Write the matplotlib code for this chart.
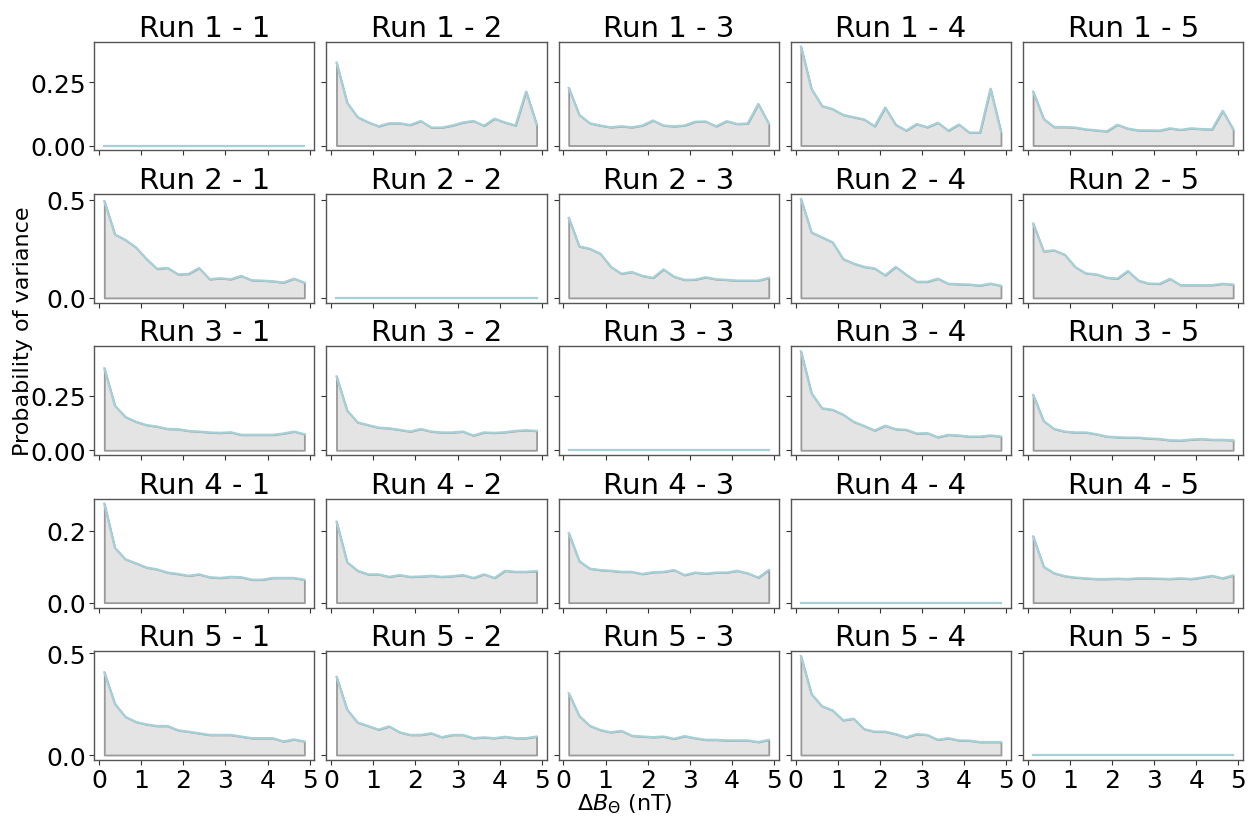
import numpy as np
import matplotlib
matplotlib.use("Agg")
import matplotlib.pyplot as plt

# bin centres of the field-difference histogram (nT)
delta_b = [0.125, 0.375, 0.625, 0.875, 1.125, 1.375, 1.625, 1.875, 2.125, 2.375,
           2.625, 2.875, 3.125, 3.375, 3.625, 3.875, 4.125, 4.375, 4.625, 4.875]

zeros = [0.0] * 20

run_1_2 = [0.327, 0.169, 0.112, 0.092, 0.076, 0.088, 0.088, 0.081, 0.097, 0.071,
           0.071, 0.079, 0.091, 0.097, 0.078, 0.106, 0.091, 0.079, 0.213, 0.083]
run_1_3 = [0.227, 0.121, 0.088, 0.079, 0.072, 0.076, 0.072, 0.079, 0.099, 0.079,
           0.076, 0.079, 0.094, 0.095, 0.076, 0.096, 0.085, 0.087, 0.164, 0.086]
run_1_4 = [0.390, 0.223, 0.156, 0.144, 0.121, 0.112, 0.103, 0.076, 0.150, 0.082,
           0.059, 0.085, 0.072, 0.090, 0.059, 0.083, 0.051, 0.051, 0.224, 0.054]
run_1_5 = [0.213, 0.105, 0.073, 0.073, 0.071, 0.064, 0.060, 0.056, 0.082, 0.067,
           0.060, 0.060, 0.059, 0.068, 0.062, 0.068, 0.065, 0.064, 0.137, 0.064]

run_2_1 = [0.492, 0.323, 0.295, 0.257, 0.198, 0.148, 0.153, 0.120, 0.122, 0.152,
           0.095, 0.100, 0.095, 0.112, 0.090, 0.088, 0.085, 0.078, 0.098, 0.078]
run_2_3 = [0.407, 0.262, 0.250, 0.225, 0.158, 0.123, 0.132, 0.112, 0.102, 0.145,
           0.108, 0.092, 0.093, 0.105, 0.095, 0.092, 0.088, 0.088, 0.088, 0.102]
run_2_4 = [0.503, 0.333, 0.308, 0.283, 0.198, 0.175, 0.158, 0.150, 0.115, 0.158,
           0.118, 0.082, 0.082, 0.098, 0.072, 0.070, 0.068, 0.063, 0.073, 0.062]
run_2_5 = [0.378, 0.237, 0.242, 0.220, 0.157, 0.125, 0.120, 0.103, 0.098, 0.137,
           0.088, 0.073, 0.072, 0.097, 0.065, 0.065, 0.065, 0.065, 0.072, 0.068]

run_3_1 = [0.376, 0.205, 0.153, 0.131, 0.116, 0.109, 0.098, 0.097, 0.089, 0.086,
           0.082, 0.080, 0.083, 0.071, 0.071, 0.071, 0.071, 0.077, 0.086, 0.074]
run_3_2 = [0.339, 0.183, 0.128, 0.116, 0.104, 0.101, 0.094, 0.086, 0.098, 0.086,
           0.082, 0.082, 0.086, 0.068, 0.082, 0.080, 0.083, 0.089, 0.092, 0.089]
run_3_4 = [0.454, 0.262, 0.193, 0.186, 0.164, 0.131, 0.112, 0.091, 0.113, 0.097,
           0.094, 0.077, 0.079, 0.060, 0.071, 0.068, 0.063, 0.063, 0.068, 0.063]
run_3_5 = [0.254, 0.134, 0.098, 0.086, 0.082, 0.082, 0.074, 0.063, 0.060, 0.058,
           0.058, 0.054, 0.052, 0.046, 0.045, 0.049, 0.052, 0.048, 0.048, 0.046]

run_4_1 = [0.276, 0.153, 0.121, 0.110, 0.098, 0.093, 0.084, 0.080, 0.075, 0.079,
           0.071, 0.069, 0.072, 0.071, 0.064, 0.064, 0.069, 0.069, 0.069, 0.064]
run_4_2 = [0.226, 0.113, 0.089, 0.079, 0.079, 0.072, 0.077, 0.072, 0.073, 0.075,
           0.072, 0.074, 0.077, 0.069, 0.079, 0.069, 0.089, 0.086, 0.086, 0.088]
run_4_3 = [0.194, 0.116, 0.095, 0.091, 0.089, 0.086, 0.086, 0.080, 0.085, 0.086,
           0.091, 0.077, 0.084, 0.081, 0.084, 0.084, 0.089, 0.082, 0.070, 0.091]
run_4_5 = [0.185, 0.100, 0.082, 0.074, 0.070, 0.068, 0.066, 0.066, 0.067, 0.066,
           0.068, 0.068, 0.067, 0.066, 0.068, 0.066, 0.070, 0.075, 0.068, 0.076]

run_5_1 = [0.407, 0.252, 0.188, 0.163, 0.151, 0.143, 0.143, 0.122, 0.115, 0.107,
           0.099, 0.099, 0.099, 0.091, 0.083, 0.083, 0.083, 0.067, 0.077, 0.067]
run_5_2 = [0.385, 0.224, 0.160, 0.143, 0.125, 0.141, 0.112, 0.099, 0.099, 0.107,
           0.088, 0.099, 0.099, 0.083, 0.087, 0.083, 0.090, 0.083, 0.083, 0.091]
run_5_3 = [0.304, 0.192, 0.144, 0.123, 0.112, 0.119, 0.095, 0.091, 0.088, 0.091,
           0.080, 0.093, 0.083, 0.075, 0.075, 0.072, 0.072, 0.072, 0.064, 0.075]
run_5_4 = [0.487, 0.300, 0.240, 0.220, 0.171, 0.179, 0.128, 0.115, 0.115, 0.103,
           0.087, 0.103, 0.099, 0.075, 0.083, 0.072, 0.071, 0.064, 0.064, 0.064]

grid = [
    [zeros, run_1_2, run_1_3, run_1_4, run_1_5],
    [run_2_1, zeros, run_2_3, run_2_4, run_2_5],
    [run_3_1, run_3_2, zeros, run_3_4, run_3_5],
    [run_4_1, run_4_2, run_4_3, zeros, run_4_5],
    [run_5_1, run_5_2, run_5_3, run_5_4, zeros],
]

row_yticks = [[0.0, 0.25], [0.0, 0.5], [0.0, 0.25], [0.0, 0.2], [0.0, 0.5]]
row_yticklabels = [["0.00", "0.25"], ["0.0", "0.5"], ["0.00", "0.25"],
                   ["0.0", "0.2"], ["0.0", "0.5"]]
x_ticks = [0, 1, 2, 3, 4, 5]

line_color = "#a6d0d8"
fill_color = "#e4e4e4"
edge_color = "#9a9a9a"

fig, axes = plt.subplots(5, 5, figsize=(12.57, 8.2), dpi=100,
                         sharex=True, sharey="row")
fig.subplots_adjust(left=0.075, right=0.989, top=0.948, bottom=0.072,
                    wspace=0.055, hspace=0.40)

for i in range(5):
    for j in range(5):
        ax = axes[i, j]
        vals = grid[i][j]
        ax.fill_between(delta_b, 0, vals, facecolor=fill_color,
                        edgecolor=edge_color, linewidth=1.3)
        ax.plot(delta_b, vals, color=line_color, linewidth=1.6)
        ax.set_title(f"Run {i + 1} - {j + 1}", fontsize=21, pad=4)
        for s in ax.spines.values():
            s.set_color("#555555")
            s.set_linewidth(1.0)
        ax.tick_params(labelsize=18, color="#333333", length=3.5, pad=2.5)
    axes[i, 0].set_yticks(row_yticks[i])
    axes[i, 0].set_yticklabels(row_yticklabels[i])

axes[0, 0].set_xticks(x_ticks)

fig.text(0.018, 0.596, "Probability of variance", rotation=90,
         va="center", ha="center", fontsize=16)
fig.text(0.497, 0.0335, r"$\Delta B_{\Theta}$ (nT)", va="top", ha="center",
         fontsize=16)

fig.savefig("out.png", dpi=100)
